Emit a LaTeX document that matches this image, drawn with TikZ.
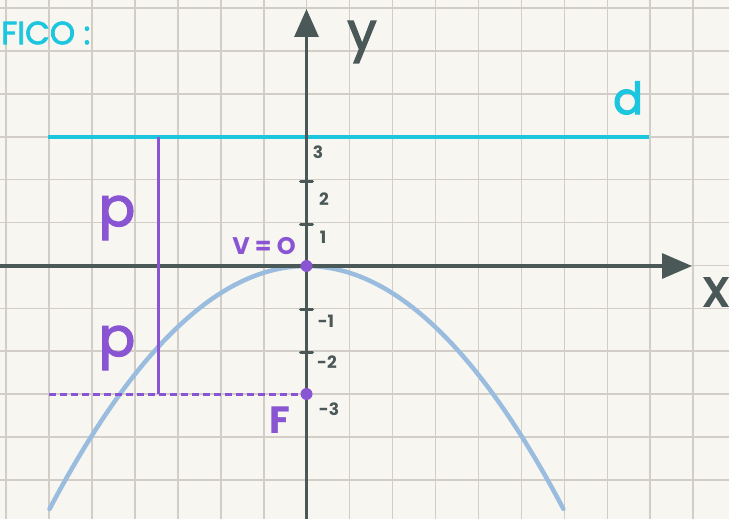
\documentclass[tikz,border=0pt]{standalone}
\usepackage{fontspec}
\setmainfont{Poppins}
\newfontfamily\handfont[FakeBold=2.5]{Poppins}
\usetikzlibrary{arrows.meta}
\definecolor{paper}{HTML}{F8F6F1}
\definecolor{gridc}{HTML}{D2CDC6}
\definecolor{axisc}{HTML}{4A5858}
\definecolor{cyanc}{HTML}{1CC6DE}
\definecolor{purp}{HTML}{8A55D2}
\definecolor{parab}{HTML}{9ABCDF}
\tikzset{
  gridline/.style={gridc, line width=1.6pt},
  axisline/.style={axisc, line width=3.2pt},
  tickmark/.style={axisc, line width=3pt, line cap=round},
  ticklabel/.style={axisc, font=\fontsize{17}{17}\selectfont\bfseries, inner sep=0pt},
  purplabel/.style={purp, inner sep=0pt},
  dotmark/.style={purp, fill=purp, circle, minimum size=12pt, inner sep=0pt},
}
\begin{document}
\begin{tikzpicture}[x=1pt,y=-1pt]
\useasboundingbox (0,0) rectangle (729,519);
\clip (0,0) rectangle (729,519);
\fill[paper] (0,0) rectangle (729,519);
% grid
\foreach \i in {0,...,16} {\draw[gridline] ({6+42.95*\i},0) -- ({6+42.95*\i},519);}
\foreach \j in {0,...,11} {\draw[gridline] (0,{8+42.9*\j}) -- (729,{8+42.9*\j});}
% title
\node[cyanc, anchor=west, inner sep=0pt, font=\handfont\fontsize{32}{32}\selectfont] (title) at (1,33) {FICO :};
% directrix
\coordinate (dl) at (48,137);
\coordinate (dr) at (649,137);
\draw[cyanc, line width=3.2pt] (dl) -- (dr);
\node[cyanc, inner sep=0pt, font=\handfont\fontsize{44}{44}\selectfont] (dlab) at (628,98) {d};
% parabola
\draw[parab, line width=4.5pt, line cap=round] plot[domain=-2.57:2.57, samples=120] ({306.5+100*\x},{266+36.8*\x*\x});
% axes
\coordinate (xl) at (0,266);
\coordinate (xr) at (692,266);
\coordinate (yb) at (306.5,519);
\coordinate (yt) at (306.5,9);
\draw[axisline, -{Triangle[length=30pt,width=25pt]}] (xl) -- (xr);
\draw[axisline, -{Triangle[length=28pt,width=24pt]}] (yb) -- (yt);
\node[axisc, inner sep=0pt, font=\handfont\fontsize{52}{52}\selectfont] (xlab) at (716,292) {x};
\node[axisc, inner sep=0pt, font=\handfont\fontsize{52}{52}\selectfont] (ylab) at (362,42) {y};
% ticks
\foreach \yy in {181,224,309,352} {\draw[tickmark] (300.5,\yy) -- (312.5,\yy);}
\node[ticklabel] (t3) at (318,152) {3};
\node[ticklabel] (t2) at (324,199) {2};
\node[ticklabel] (t1) at (323,237) {1};
\node[ticklabel] (tm1) at (326,321) {-1};
\node[ticklabel] (tm2) at (327,362) {-2};
\node[ticklabel] (tm3) at (329,409) {-3};
% purple constructions
\coordinate (pt) at (158,137);
\coordinate (pb) at (158,394);
\draw[purp, line width=3pt] (pt) -- (pb);
\node[dotmark] (F) at (306.5,394) {};
\node[dotmark] (V) at (306.5,266) {};
\coordinate (dashl) at (49,394);
\draw[purp, line width=3pt, dash pattern=on 7pt off 4pt] (dashl) -- (F);
\node[purplabel, font=\fontsize{38}{38}\selectfont\bfseries] (Flab) at (280,420) {F};
\node[purplabel, font=\fontsize{24}{24}\selectfont\bfseries] (Vlab) at (264,246) {V = O};
\node[purplabel, font=\handfont\fontsize{54}{54}\selectfont] (p1) at (117,218) {p};
\node[purplabel, font=\handfont\fontsize{54}{54}\selectfont] (p2) at (117,348) {p};
\end{tikzpicture}
\end{document}
